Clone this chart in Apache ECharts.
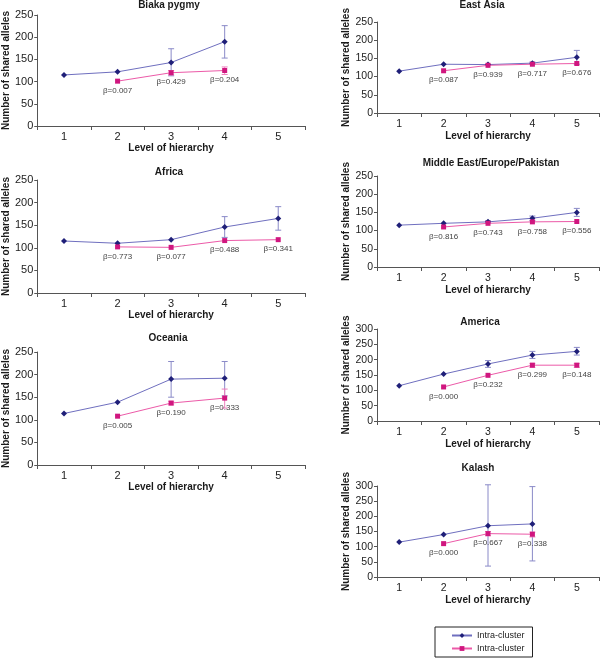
<!DOCTYPE html>
<html><head><meta charset="utf-8">
<script src="https://cdn.jsdelivr.net/npm/echarts@6/dist/echarts.min.js"></script>
<style>html,body{margin:0;padding:0;background:#fff}#c{width:600px;height:660px}</style>
</head><body><div id="c"></div>
<script>
const levels = ['1','2','3','4','5'];
const legendNames = ['Intra-cluster', 'Intra-cluster'];

// Biaka pygmy
const biakaIntra = [115,122,143,190,null];
const biakaIntraLow = [null,null,113,153,null];
const biakaIntraHigh = [null,null,174,226,null];
const biakaInter = [null,101,120,125,null];
const biakaInterLow = [null,null,115,116,null];
const biakaInterHigh = [null,null,125,133,null];
const biakaBeta = ['','0.007','0.429','0.204',''];
// Africa
const africaIntra = [115,110,118,146,165];
const africaIntraLow = [null,null,null,123,139];
const africaIntraHigh = [null,null,null,169,191];
const africaInter = [null,102,101,116,118];
const africaInterLow = [null,null,null,null,null];
const africaInterHigh = [null,null,null,null,null];
const africaBeta = ['','0.773','0.077','0.488','0.341'];
// Oceania
const oceaniaIntra = [114,139,190,192,null];
const oceaniaIntraLow = [null,null,150,153,null];
const oceaniaIntraHigh = [null,null,229,229,null];
const oceaniaInter = [null,108,137,148,null];
const oceaniaInterLow = [null,null,133,126,null];
const oceaniaInterHigh = [null,null,141,168,null];
const oceaniaBeta = ['','0.005','0.190','0.333',''];
// East Asia
const eastAsiaIntra = [115,134,133,137,153];
const eastAsiaIntraLow = [null,null,null,134,134];
const eastAsiaIntraHigh = [null,null,null,140,172];
const eastAsiaInter = [null,116,131,134,136];
const eastAsiaInterLow = [null,null,null,null,null];
const eastAsiaInterHigh = [null,null,null,null,null];
const eastAsiaBeta = ['','0.087','0.939','0.717','0.676'];
// Middle East/Europe/Pakistan
const meIntra = [115,120,124,134,150];
const meIntraLow = [null,null,121,128,139];
const meIntraHigh = [null,null,127,140,161];
const meInter = [null,110,120,124,125];
const meInterLow = [null,null,null,null,null];
const meInterHigh = [null,null,null,null,null];
const meBeta = ['','0.816','0.743','0.758','0.556'];
// America
const americaIntra = [115,153,186,215,227];
const americaIntraLow = [null,null,175,204,215];
const americaIntraHigh = [null,null,197,227,240];
const americaInter = [null,111,149,182,182];
const americaInterLow = [null,null,null,175,175];
const americaInterHigh = [null,null,null,188,188];
const americaBeta = ['','0.000','0.232','0.299','0.148'];
// Kalash
const kalashIntra = [115,140,169,175,null];
const kalashIntraLow = [null,null,36,53,null];
const kalashIntraHigh = [null,null,304,298,null];
const kalashInter = [null,110,143,141,null];
const kalashInterLow = [null,null,136,132,null];
const kalashInterHigh = [null,null,150,148,null];
const kalashBeta = ['','0.000','0.667','0.338',''];

const panels = [
  {title:'Biaka pygmy', intra:biakaIntra, iLo:biakaIntraLow, iHi:biakaIntraHigh, inter:biakaInter, eLo:biakaInterLow, eHi:biakaInterHigh, beta:biakaBeta, ymax:250},
  {title:'Africa', intra:africaIntra, iLo:africaIntraLow, iHi:africaIntraHigh, inter:africaInter, eLo:africaInterLow, eHi:africaInterHigh, beta:africaBeta, ymax:250},
  {title:'Oceania', intra:oceaniaIntra, iLo:oceaniaIntraLow, iHi:oceaniaIntraHigh, inter:oceaniaInter, eLo:oceaniaInterLow, eHi:oceaniaInterHigh, beta:oceaniaBeta, ymax:250},
  {title:'East Asia', intra:eastAsiaIntra, iLo:eastAsiaIntraLow, iHi:eastAsiaIntraHigh, inter:eastAsiaInter, eLo:eastAsiaInterLow, eHi:eastAsiaInterHigh, beta:eastAsiaBeta, ymax:250},
  {title:'Middle East/Europe/Pakistan', intra:meIntra, iLo:meIntraLow, iHi:meIntraHigh, inter:meInter, eLo:meInterLow, eHi:meInterHigh, beta:meBeta, ymax:250},
  {title:'America', intra:americaIntra, iLo:americaIntraLow, iHi:americaIntraHigh, inter:americaInter, eLo:americaInterLow, eHi:americaInterHigh, beta:americaBeta, ymax:300},
  {title:'Kalash', intra:kalashIntra, iLo:kalashIntraLow, iHi:kalashIntraHigh, inter:kalashInter, eLo:kalashInterLow, eHi:kalashInterHigh, beta:kalashBeta, ymax:300}
];

// layout (pixels)
const layout = [
  {left:33, top:15, width:272, height:111, tx:169, ty:0, col:0},
  {left:33, top:180, width:272, height:113, tx:169, ty:167, col:0},
  {left:33, top:352, width:272, height:113, tx:168, ty:333, col:0},
  {left:377, top:22, width:222, height:91, tx:482, ty:0, col:1},
  {left:377, top:176, width:222, height:91, tx:491, ty:158, col:1},
  {left:377, top:329, width:222, height:92, tx:480, ty:317, col:1},
  {left:377, top:486, width:222, height:91, tx:478, ty:463, col:1}
];

const FONT = '"Liberation Sans", Arial, sans-serif';
const navyLine = '#6f6fbf', navyMark = '#1f1f78', navyErr = '#8a8ac8';
const pinkLine = '#ec5aa8', pinkMark = '#d0167f', pinkErr = '#ee7fbd';

function errData(lo, hi) {
  const out = [];
  levels.forEach((_, i) => { if (lo[i] != null && hi[i] != null) out.push([i, lo[i], hi[i]]); });
  return out;
}
function errSeries(idx, data, color) {
  return {
    type:'custom', xAxisIndex:idx, yAxisIndex:idx, data:data, z:3, silent:true,
    encode:{x:0, y:[1,2]},
    renderItem(params, api) {
      const x = api.value(0);
      const a = api.coord([x, api.value(1)]);
      const b = api.coord([x, api.value(2)]);
      const hw = 3;
      const st = {stroke:color, lineWidth:1};
      return {type:'group', children:[
        {type:'line', shape:{x1:a[0], y1:a[1], x2:b[0], y2:b[1]}, style:st},
        {type:'line', shape:{x1:a[0]-hw, y1:a[1], x2:a[0]+hw, y2:a[1]}, style:st},
        {type:'line', shape:{x1:b[0]-hw, y1:b[1], x2:b[0]+hw, y2:b[1]}, style:st}
      ]};
    }
  };
}

const grid = [], xAxis = [], yAxis = [], series = [], title = [];
panels.forEach((p, i) => {
  const L = layout[i];
  const left = L.col === 0;
  const tickFs = left ? 11 : 10.5;
  grid.push({left:L.left, top:L.top, width:L.width, height:L.height});
  title.push({text:p.title, left:L.tx, top:L.ty, textAlign:'center', padding:0,
    textStyle:{fontFamily:FONT, fontSize:10, fontWeight:'bold', color:'#1a1a1a'}});
  xAxis.push({type:'category', gridIndex:i, data:levels, boundaryGap:true,
    axisLine:{lineStyle:{color:'#555', width:1}},
    axisTick:{show:true, length:4, lineStyle:{color:'#555'}},
    axisLabel:{fontFamily:FONT, fontSize:tickFs, color:'#222', margin:left ? 5 : 6},
    name:'Level of hierarchy', nameLocation:'middle', nameGap:left ? 16 : 17,
    nameTextStyle:{fontFamily:FONT, fontSize:10, fontWeight:'bold', color:'#1a1a1a'},
    splitLine:{show:false}});
  yAxis.push({type:'value', gridIndex:i, min:0, max:p.ymax, interval:50,
    axisLine:{show:true, lineStyle:{color:'#555', width:1}},
    axisTick:{show:true, length:3, lineStyle:{color:'#555'}},
    axisLabel:{fontFamily:FONT, fontSize:tickFs, color:'#222', margin:4},
    splitLine:{show:false},
    name:'Number of shared alleles', nameLocation:'middle', nameGap:left ? 21 : 22, nameRotate:90,
    nameTextStyle:{fontFamily:FONT, fontSize:10, fontWeight:'bold', color:'#1a1a1a'}});
  series.push(errSeries(i, errData(p.iLo, p.iHi), navyErr));
  series.push(errSeries(i, errData(p.eLo, p.eHi), pinkErr));
  series.push({type:'line', name:legendNames[0], xAxisIndex:i, yAxisIndex:i, data:p.intra,
    symbol:'diamond', symbolSize:6, z:4,
    lineStyle:{color:navyLine, width:1}, itemStyle:{color:navyMark}, connectNulls:false});
  series.push({type:'line', name:legendNames[1] + ' ', xAxisIndex:i, yAxisIndex:i, data:p.inter,
    symbol:'rect', symbolSize:5, z:4,
    lineStyle:{color:pinkLine, width:1}, itemStyle:{color:pinkMark}, connectNulls:false,
    label:{show:true, position:'bottom', distance:3, fontFamily:FONT, fontSize:8, color:'#444',
      formatter:(q) => p.beta[q.dataIndex] ? '\u03b2=' + p.beta[q.dataIndex] : ''}});
});

const chart = echarts.init(document.getElementById('c'), null, {renderer:'canvas'});
chart.setOption({
  animation:false,
  backgroundColor:'#fff',
  title:title, grid:grid, xAxis:xAxis, yAxis:yAxis, series:series,
  legend:{data:[legendNames[0], legendNames[1] + ' '], orient:'vertical', left:435, top:627,
    borderColor:'#222', borderWidth:1, padding:[4,8,4,16], itemGap:4, itemWidth:20, itemHeight:6,
    itemTextGap:7,
    formatter:(n) => n.trim(),
    textStyle:{fontFamily:FONT, fontSize:9, color:'#222'}}
});
</script></body></html>
